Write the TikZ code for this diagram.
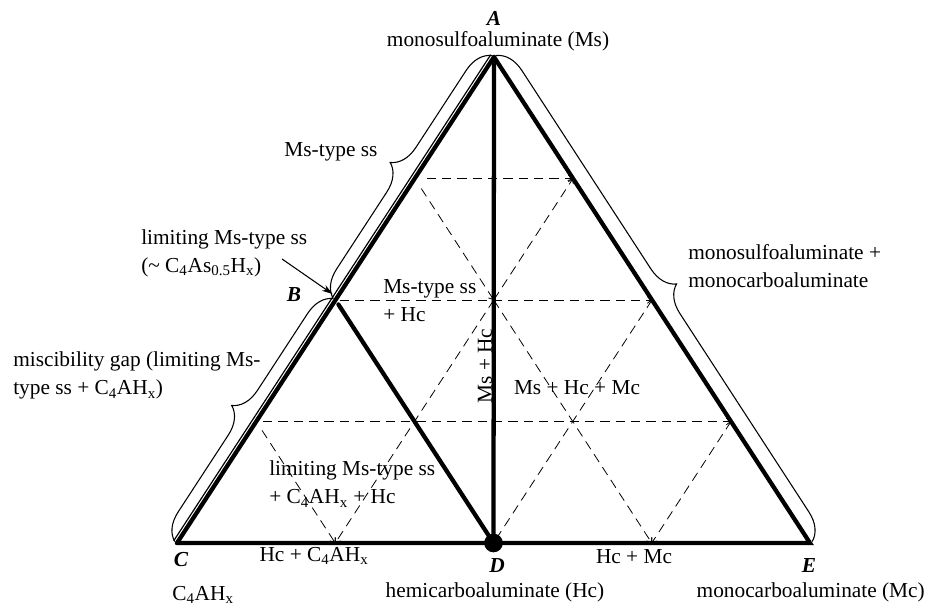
\documentclass[tikz,border=0pt]{standalone}
\usepackage{fontspec}
\setmainfont{Liberation Serif}
\usetikzlibrary{arrows.meta,calc,decorations.pathreplacing}
\tikzset{edge/.style={line width=3.2pt,line cap=round},
  tie/.style={line width=0.6pt,dash pattern=on 7pt off 4.5pt,-{Straight Barb[length=3pt,width=5pt]}},
  curly/.style={decorate,decoration={brace,amplitude=20pt,raise=2pt},line width=0.8pt},
  lbl/.style={inner sep=0pt,font=\fontsize{16}{21}\selectfont},
  vtx/.style={inner sep=0pt,font=\fontsize{16}{21}\selectfont\bfseries\itshape}}
\newcommand{\caah}{C\textsubscript{4}AH\textsubscript{x}}

\begin{document}
\begin{tikzpicture}[x=0.75pt,y=0.75pt]
  \useasboundingbox (0,0) rectangle (928,609);
  \foreach \i in {0,...,4}
    \foreach \j in {0,...,4}
      \coordinate (g\i\j) at ({177+158.25*\i+79.25*\j},{66+121.5*\j});
  \coordinate (C) at (g00); \coordinate (D) at (g20); \coordinate (E) at (g40);
  \coordinate (B) at (g02); \coordinate (A) at (g04);
  % dashed sub-grid
  \draw[tie,shorten <=9pt] (g03) -- (g13);
  \draw[tie,shorten <=3pt] (g02) -- (g22);
  \draw[tie,shorten <=5pt] (g01) -- (g31);
  \draw[tie,shorten <=9pt] (g03) -- (g12);
  \draw[tie] (g12) -- (g30);
  \draw[tie,shorten <=8pt] (g01) -- (g10);
  \draw[tie] (g12) -- (g10);
  \draw[tie] (g12) -- (g13);
  \draw[tie] (g22) -- (g20);
  \draw[tie] (g31) -- (g30);
  % phase boundaries
  \draw[edge] (C) -- (E) -- (A);
  \draw[edge] (A) -- (D);
  \draw[edge,shorten <=4pt] (B) -- (D);
  \draw[edge] (C) -- (A);
  \draw[line width=0.9pt] ([shift={(-3.3,2.2)}]C) -- ([shift={(-3.3,2.2)}]A);
  \fill (D) circle (7pt);
  % braces
  \draw[curly] (B) -- (A);
  \draw[curly] (A) -- (E);
  \draw[curly] (C) -- (B);
  % vertices
  \node[vtx] (lA) at (494,591) {A};
  \node[lbl] (nMs) at (498,568) {monosulfoaluminate (Ms)};
  \node[vtx] (lB) at (294,314) {B};
  \node[vtx] (lC) at (181,49) {C};
  \node[lbl] (nC) at (203,14) {\caah};
  \node[vtx] (lD) at (497,43) {D};
  \node[lbl] (nHc) at (495,17) {hemicarboaluminate (Hc)};
  \node[vtx] (lE) at (809,43) {E};
  \node[lbl,anchor=east] (nMc) at (925,17) {monocarboaluminate (Mc)};
  % regions
  \node[lbl] (rMs) at (331,457) {Ms-type ss};
  \node[lbl,align=left,anchor=west] (rLim) at (141,356) {limiting Ms-type ss\\(\textasciitilde{} C\textsubscript{4}As\textsubscript{0.5}H\textsubscript{x})};
  \coordinate (ptr) at (282,350);
  \draw[line width=0.8pt,-{Stealth[length=8pt,width=5pt]}] (ptr) -- ([shift={(-3,6)}]B);
  \node[lbl,align=left,anchor=west] (rMsHc) at (383,308.5) {Ms-type ss\\+ Hc};
  \node[lbl,align=left,anchor=west] (rMsMc) at (688,343) {monosulfoaluminate +\\monocarboaluminate};
  \node[lbl,align=left,anchor=west] (rGap) at (13,233.5) {miscibility gap (limiting Ms-\\type ss + \caah)};
  \node[lbl,rotate=90] (rAD) at (485,243) {Ms + Hc};
  \node[lbl] (rThree) at (577,221) {Ms + Hc + Mc};
  \node[lbl,align=left,anchor=west] (rLow) at (269,125) {limiting Ms-type ss\\+ \caah{} + Hc};
  \node[lbl] (rCD) at (314,53) {Hc + \caah};
  \node[lbl] (rDE) at (634,52) {Hc + Mc};
\end{tikzpicture}
\end{document}
